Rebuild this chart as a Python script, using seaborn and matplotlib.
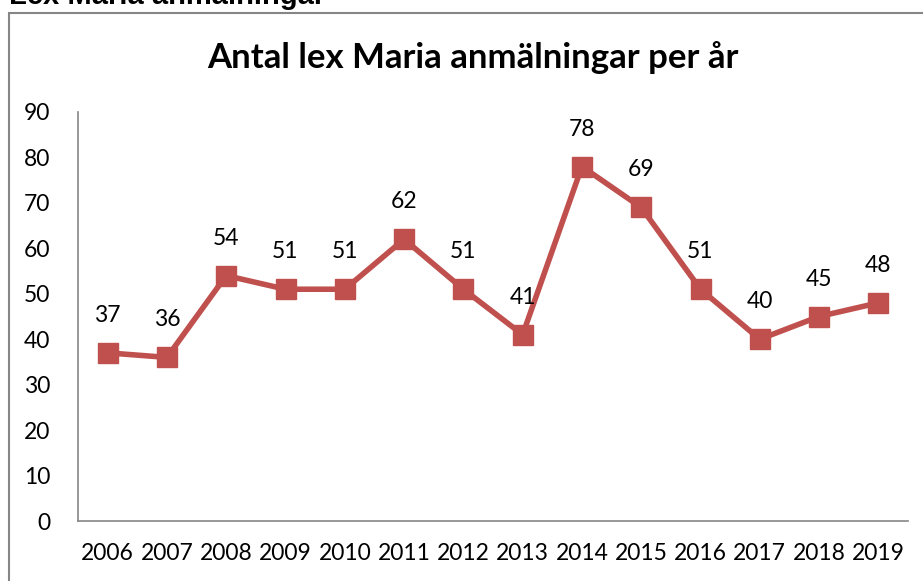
import matplotlib
matplotlib.use("Agg")
import matplotlib.pyplot as plt
import seaborn as sns
import pandas as pd
from matplotlib.patches import Rectangle

years = ["2006", "2007", "2008", "2009", "2010", "2011", "2012",
         "2013", "2014", "2015", "2016", "2017", "2018", "2019"]
counts = [37, 36, 54, 51, 51, 62, 51, 41, 78, 69, 51, 40, 45, 48]
y_ticks = [0, 10, 20, 30, 40, 50, 60, 70, 80, 90]

sns.set_style("white")
plt.rcParams['font.family'] = ['Lato', 'DejaVu Sans']
plt.rcParams['text.color'] = 'black'
plt.rcParams['xtick.labelcolor'] = 'black'
plt.rcParams['ytick.labelcolor'] = 'black'

df = pd.DataFrame({"idx": list(range(len(years))), "count": counts})

W, H = 923, 581
fig = plt.figure(figsize=(W / 100, H / 100), dpi=100)
ax = fig.add_axes([78 / W, 1 - 521 / H, (908 - 78) / W, (521 - 112) / H])

color = "#C0504D"
sns.lineplot(data=df, x="idx", y="count", ax=ax, color=color, linewidth=4,
             marker="s", markersize=14, markeredgecolor=color,
             markeredgewidth=1, markerfacecolor=color)

for i, v in enumerate(counts):
    ax.annotate(str(v), (i, v), xytext=(0, 27), textcoords="offset points",
                ha="center", va="center", fontsize=16.5, color="black")

ax.set_xlim(-0.5, len(years) - 0.5)
ax.set_ylim(0, 90)
ax.set_yticks(y_ticks)
ax.set_yticklabels([str(t) for t in y_ticks], fontsize=16.5)
ax.set_xticks(range(len(years)))
ax.set_xticklabels(years, fontsize=16.5)
ax.set_xticks([i - 0.5 for i in range(len(years) + 1)], minor=True)
ax.tick_params(axis="x", which="major", length=0, pad=16, labelcolor="black")
ax.tick_params(axis="x", which="minor", length=6, color="#868686", width=1.2,
               direction="out")
ax.tick_params(axis="y", length=7, color="#868686", width=1.2, direction="out",
               pad=13, labelcolor="black")
ax.set_xlabel("")
ax.set_ylabel("")
for s in ["top", "right"]:
    ax.spines[s].set_visible(False)
for s in ["left", "bottom"]:
    ax.spines[s].set_color("#868686")
    ax.spines[s].set_linewidth(1.2)

fig.suptitle("Antal lex Maria anmälningar per år", x=473 / W, y=1 - 58 / H,
             va="center", fontsize=25, fontweight="bold", color="black")

fig.patches.append(Rectangle((9 / W, -0.1), 1.2, 1 - 13 / H + 0.1,
                             transform=fig.transFigure, fill=False,
                             edgecolor="#868686", linewidth=1.5))
fig.text(9 / W, 1 - 4 / H, "Lex Maria anmälningar", ha="left", va="baseline",
         fontsize=21, fontweight="bold", color="black",
         family=["Liberation Sans", "DejaVu Sans"])

fig.savefig("out.png", dpi=100)
